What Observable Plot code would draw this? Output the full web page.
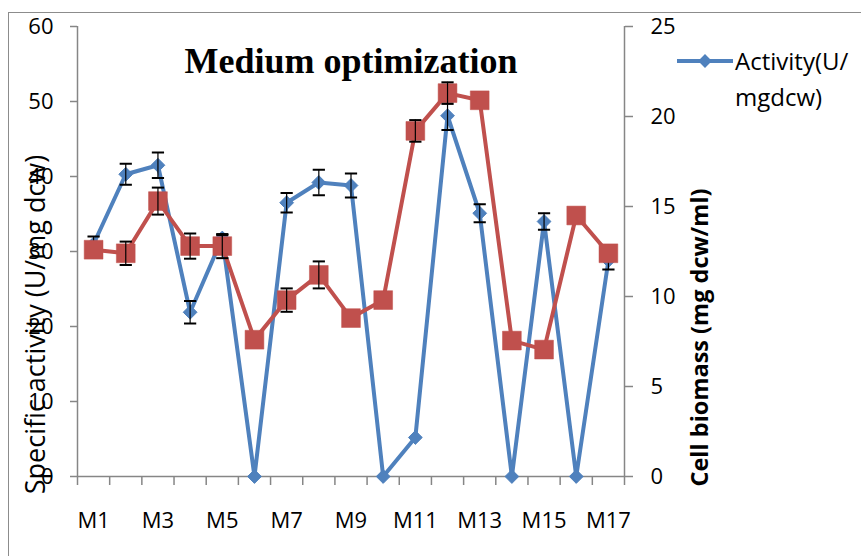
<!DOCTYPE html>
<html>
<head>
<meta charset="utf-8">
<script src="https://cdn.jsdelivr.net/npm/d3@7"></script>
<script src="https://cdn.jsdelivr.net/npm/@observablehq/plot@0.6"></script>
<style>
  html, body { margin: 0; padding: 0; background: #fff; }
  #wrap { position: relative; width: 861px; height: 556px; overflow: hidden; font-family: 'Open Sans', sans-serif; }
  #frame { position: absolute; left: 8px; top: 12px; width: 900px; height: 600px; border-left: 1.5px solid #8c8c8c; border-top: 1.5px solid #8c8c8c; box-sizing: border-box; pointer-events: none; }
  #legend { position: absolute; left: 676px; top: 43px; font-size: 24px; line-height: 36px; color: #000; }
  #legend svg { position: absolute; left: 0; top: 7px; }
  #legend .txt { position: absolute; left: 59px; top: 0; white-space: nowrap; }
</style>
</head>
<body>
<div id="wrap">
  <div id="chart"></div>
  <div id="frame"></div>
  <div id="legend"></div>
</div>
<script>
const categories = ["M1","M2","M3","M4","M5","M6","M7","M8","M9","M10","M11","M12","M13","M14","M15","M16","M17"];
const activity    = [31, 40.3, 41.5, 21.9, 31.8, 0, 36.5, 39.2, 38.8, 0, 5.2, 48.1, 35.1, 0, 34, 0, 28.8];
const activityErr = [1.0, 1.4, 1.7, 1.5, 0.4, 0, 1.3, 1.7, 1.6, 0, 0, 1.9, 1.2, 0, 1.1, 0, 1.2];
const biomass     = [12.6, 12.4, 15.3, 12.8, 12.8, 7.6, 9.8, 11.2, 8.8, 9.8, 19.2, 21.3, 20.9, 7.55, 7.05, 14.5, 12.4];
const biomassErr  = [0, 0.65, 0.75, 0.7, 0.67, 0, 0.65, 0.75, 0, 0, 0.6, 0.6, 0, 0, 0, 0, 0];
const leftTicks = [0, 10, 20, 30, 40, 50, 60];
const rightTicks = [0, 5, 10, 15, 20, 25];
const xTickLabels = ["M1","M3","M5","M7","M9","M11","M13","M15","M17"];
const title = "Medium optimization";
const leftLabel = "Specific activity (U/mg dcw)";
const rightLabel = "Cell biomass (mg dcw/ml)";
const legendLabel = ["Activity(U/", "mgdcw)"];

const blue = "#4f81bd", red = "#c0504d", axisGray = "#868686";
const yMax = d3.max(leftTicks), y2Max = d3.max(rightTicks);
const k = yMax / y2Max;

const rows = categories.map((c, i) => ({
  i: i + 1, c,
  a: activity[i], ae: activityErr[i],
  b: biomass[i] * k, be: biomassErr[i] * k
}));
const aErr = rows.filter(d => d.ae > 0);
const bErr = rows.filter(d => d.be > 0);
const bounds = d3.range(categories.length + 1).map(j => j + 0.5);
const capW = 0.19;

const plot = Plot.plot({
  width: 861, height: 556,
  marginLeft: 77, marginRight: 237, marginTop: 26, marginBottom: 80,
  style: { fontFamily: "'Open Sans', sans-serif", fontSize: "22px", color: "#000", background: "transparent", overflow: "visible" },
  x: { type: "linear", domain: [0.5, categories.length + 0.5] },
  y: { domain: [0, yMax] },
  marks: [
    Plot.axisY({ ticks: leftTicks, tickSize: 7, tickPadding: 17, stroke: axisGray, strokeWidth: 1.5, fill: "#000", label: null }),
    Plot.axisY({ anchor: "right", ticks: rightTicks.map(t => t * k), tickFormat: t => d3.format("d")(Math.round(t / k)), tickSize: 8, tickPadding: 18, stroke: axisGray, strokeWidth: 1.5, fill: "#000", label: null }),
    Plot.axisX({ ticks: bounds, tickSize: 9, tickFormat: () => "", stroke: axisGray, strokeWidth: 1.5, label: null }),
    Plot.axisX({ ticks: xTickLabels.map(l => categories.indexOf(l) + 1), tickFormat: t => categories[t - 1], tickSize: 0, tickPadding: 36, fill: "#000", label: null }),
    Plot.ruleX([0.5, categories.length + 0.5], { stroke: axisGray, strokeWidth: 1.5 }),
    Plot.ruleY([0], { stroke: axisGray, strokeWidth: 1.5 }),
    // activity series
    Plot.line(rows, { x: "i", y: "a", stroke: blue, strokeWidth: 4 }),
    Plot.dot(rows, { x: "i", y: "a", symbol: "diamond2", r: 6.2, fill: blue, stroke: blue, strokeWidth: 1 }),
    Plot.ruleX(aErr, { x: "i", y1: d => d.a - d.ae, y2: d => d.a + d.ae, stroke: "#000", strokeWidth: 1.2 }),
    Plot.link(aErr, { x1: d => d.i - capW, x2: d => d.i + capW, y1: d => d.a + d.ae, y2: d => d.a + d.ae, stroke: "#000", strokeWidth: 2 }),
    Plot.link(aErr, { x1: d => d.i - capW, x2: d => d.i + capW, y1: d => d.a - d.ae, y2: d => d.a - d.ae, stroke: "#000", strokeWidth: 2 }),
    // biomass series
    Plot.line(rows, { x: "i", y: "b", stroke: red, strokeWidth: 4 }),
    Plot.dot(rows, { x: "i", y: "b", symbol: "square", r: 10.6, fill: red, stroke: red, strokeWidth: 0.5 }),
    Plot.ruleX(bErr, { x: "i", y1: d => d.b - d.be, y2: d => d.b + d.be, stroke: "#000", strokeWidth: 1.2 }),
    Plot.link(bErr, { x1: d => d.i - capW, x2: d => d.i + capW, y1: d => d.b + d.be, y2: d => d.b + d.be, stroke: "#000", strokeWidth: 2 }),
    Plot.link(bErr, { x1: d => d.i - capW, x2: d => d.i + capW, y1: d => d.b - d.be, y2: d => d.b - d.be, stroke: "#000", strokeWidth: 2 }),
    // texts
    Plot.text([title], { frameAnchor: "top", dy: 21, fontFamily: "'Liberation Serif', 'Times New Roman', serif", fontWeight: "bold", fontSize: 36, fill: "#000" }),
    Plot.text([leftLabel], { frameAnchor: "left", textAnchor: "middle", rotate: -90, dx: -41, dy: 73, fontSize: 27, fill: "#000" }),
    Plot.text([rightLabel], { frameAnchor: "right", textAnchor: "middle", rotate: -90, dx: 76, dy: 86, fontSize: 23.5, fontWeight: "bold", fill: "#000" })
  ]
});
document.getElementById("chart").appendChild(plot);

// legend
const lg = d3.select("#legend");
const sw = lg.append("svg").attr("width", 58).attr("height", 22);
sw.append("line").attr("x1", 1).attr("x2", 57).attr("y1", 11).attr("y2", 11).attr("stroke", blue).attr("stroke-width", 4);
sw.append("path").attr("d", d3.symbol(d3.symbolDiamond2, Math.PI * 6.2 * 6.2)()).attr("transform", "translate(29,11)").attr("fill", blue);
lg.append("div").attr("class", "txt").html(legendLabel.join("<br>"));
</script>
</body>
</html>
